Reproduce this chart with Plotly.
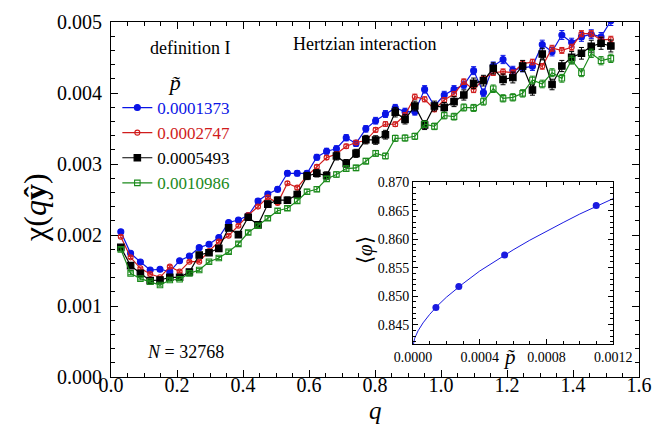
"""
chi(q y) for Hertzian packings, with <phi>(p) inset.
"""

import plotly.graph_objects as go

# wave numbers q = 2*pi*n/L, n = 1..51
q = [0.0297, 0.0594, 0.0891, 0.1188, 0.1485, 0.1782, 0.2079, 0.2376, 0.2673, 0.2970,
     0.3267, 0.3564, 0.3861, 0.4158, 0.4455, 0.4752, 0.5049, 0.5346, 0.5643, 0.5940,
     0.6237, 0.6534, 0.6831, 0.7128, 0.7425, 0.7722, 0.8019, 0.8316, 0.8613, 0.8910,
     0.9207, 0.9504, 0.9801, 1.0098, 1.0395, 1.0692, 1.0989, 1.1286, 1.1583, 1.1880,
     1.2177, 1.2474, 1.2771, 1.3068, 1.3365, 1.3662, 1.3959, 1.4256, 1.4553, 1.4850,
     1.5147]

chi_1373 = [0.002046, 0.001742, 0.001620, 0.001507, 0.001517, 0.001484, 0.001638, 0.001704, 0.001822, 0.001869,
            0.001965, 0.002176, 0.002211, 0.002275, 0.002479, 0.002577, 0.002643, 0.002869, 0.002869, 0.002869,
            0.003095, 0.003180, 0.003215, 0.003370, 0.003290, 0.003495, 0.003610, 0.003704, 0.003790, 0.003737,
            0.003737, 0.004051, 0.003817, 0.003972, 0.004051, 0.004113, 0.004315, 0.004005, 0.004380, 0.004472,
            0.004320, 0.004355, 0.004375, 0.004683, 0.004582, 0.004817, 0.004710, 0.004790, 0.004828, 0.004790,
            0.005016]
chi_2747 = [0.001976, 0.001685, 0.001531, 0.001451, 0.001404, 0.001554, 0.001484, 0.001624, 0.001624, 0.001775,
            0.001906, 0.001990, 0.002131, 0.002280, 0.002400, 0.002531, 0.002450, 0.002728, 0.002667, 0.002831,
            0.002960, 0.003090, 0.003140, 0.003250, 0.003303, 0.003330, 0.003480, 0.003563, 0.003560, 0.003690,
            0.003948, 0.003911, 0.003770, 0.003901, 0.003986, 0.004160, 0.004042, 0.004200, 0.004285, 0.004300,
            0.004286, 0.004413, 0.004436, 0.004375, 0.004630, 0.004600, 0.004645, 0.004835, 0.004835, 0.004747,
            0.004756]
chi_5493 = [0.001826, 0.001568, 0.001460, 0.001357, 0.001366, 0.001404, 0.001404, 0.001479, 0.001718, 0.001751,
            0.001812, 0.002100, 0.002005, 0.002249, 0.002143, 0.002435, 0.002490, 0.002490, 0.002570, 0.002831,
            0.002869, 0.002838, 0.003113, 0.003009, 0.003150, 0.003343, 0.003338, 0.003413, 0.003730, 0.003629,
            0.003817, 0.003549, 0.003817, 0.003798, 0.003878, 0.003972, 0.004136, 0.004174, 0.004347, 0.004192,
            0.004218, 0.004380, 0.004042, 0.004549, 0.004120, 0.004380, 0.004502, 0.004559, 0.004659, 0.004700,
            0.004662]
chi_10986 = [0.001798, 0.001460, 0.001385, 0.001343, 0.001296, 0.001366, 0.001376, 0.001460, 0.001507, 0.001624,
             0.001676, 0.001765, 0.001875, 0.002035, 0.002130, 0.002235, 0.002342, 0.002376, 0.002480, 0.002610,
             0.002645, 0.002790, 0.002852, 0.002935, 0.002945, 0.003040, 0.003150, 0.003113, 0.003362, 0.003366,
             0.003390, 0.003560, 0.003530, 0.003683, 0.003667, 0.003796, 0.003790, 0.003880, 0.004060, 0.003925,
             0.003939, 0.003995, 0.004183, 0.004127, 0.004286, 0.004207, 0.004465, 0.004286, 0.004559, 0.004455,
             0.004488]

# inset: packing fraction vs pressure
p_sim = [0.0001373, 0.0002747, 0.0005493, 0.0010986]
phi_sim = [0.8480, 0.8517, 0.8572, 0.8659]
p_fit = [0.0, 0.00001, 0.00003, 0.00006, 0.0001, 0.00015, 0.0002, 0.0003, 0.0004, 0.0005,
         0.0006, 0.0007, 0.0008, 0.0009, 0.0010, 0.0011, 0.0012]
phi_fit = [0.8412, 0.8426, 0.8439, 0.8453, 0.8468, 0.8484, 0.8498, 0.8522, 0.8544, 0.8563,
           0.8581, 0.8598, 0.8614, 0.8629, 0.8644, 0.8657, 0.8671]

FONT = "Liberation Serif"

series = [
    ("0.0001373", chi_1373, "#0a14e6", "circle", 6, 1.3),
    ("0.0002747", chi_2747, "#d01c1c", "circle-open", 5, 0.9),
    ("0.0005493", chi_5493, "#000000", "square", 6.5, 1.8),
    ("0.0010986", chi_10986, "#1b8a1b", "square-open", 5.5, 1.3),
]

fig = go.Figure()

for label, y, color, symbol, size, err in series:
    fig.add_trace(go.Scatter(
        x=q, y=y,
        mode="lines+markers",
        name=f"<span style='color:{color}'>{label}</span>",
        line=dict(color=color, width=1.2),
        marker=dict(color=color, symbol=symbol, size=size, line=dict(color=color, width=1.1)),
        error_y=dict(type="percent", value=err, color=color, thickness=1, width=2.5),
        xaxis="x", yaxis="y",
    ))

fig.add_trace(go.Scatter(
    x=p_fit, y=phi_fit, mode="lines",
    line=dict(color="#1a1ae0", width=1),
    showlegend=False, xaxis="x2", yaxis="y2",
))
fig.add_trace(go.Scatter(
    x=p_sim, y=phi_sim, mode="markers",
    marker=dict(color="#1a1ae0", size=7),
    showlegend=False, xaxis="x2", yaxis="y2",
))

axis_common = dict(
    showline=True, linecolor="black", linewidth=1, mirror="ticks",
    ticks="inside", tickcolor="black", showgrid=False, zeroline=False,
    automargin=False,
)

fig.update_layout(
    width=653, height=428,
    margin=dict(l=111, r=14, t=22, b=51),
    paper_bgcolor="white", plot_bgcolor="white",
    font=dict(family=FONT, size=18, color="black"),
    xaxis=dict(
        range=[0, 1.6], dtick=0.2, tick0=0, tickformat=".1f", ticklen=7,
        minor=dict(dtick=0.05, ticklen=4, ticks="inside", tickcolor="black"),
        tickfont=dict(family=FONT, size=20), ticklabelstandoff=-10, **axis_common,
    ),
    yaxis=dict(
        range=[0, 0.005], dtick=0.001, tick0=0, tickformat=".3f", ticklen=7,
        minor=dict(dtick=0.0002, ticklen=4, ticks="inside", tickcolor="black"),
        tickfont=dict(family=FONT, size=20), ticklabelstandoff=4, **axis_common,
    ),
    xaxis2=dict(
        domain=[0.572, 0.951], anchor="y2",
        range=[0, 0.0012], tickvals=[0, 0.0004, 0.0008, 0.0012], tickformat=".4f", ticklen=5,
        minor=dict(dtick=0.0001, ticklen=3, ticks="inside", tickcolor="black"),
        tickfont=dict(family=FONT, size=14), **axis_common,
    ),
    yaxis2=dict(
        domain=[0.093, 0.549], anchor="x2",
        range=[0.8416, 0.870], tickvals=[0.845, 0.850, 0.855, 0.860, 0.865, 0.870], tickformat=".3f",
        ticklen=5,
        minor=dict(dtick=0.001, ticklen=3, ticks="inside", tickcolor="black"),
        tickfont=dict(family=FONT, size=14), **axis_common,
    ),
    legend=dict(
        x=0.012, y=0.889, xanchor="left", yanchor="top",
        bgcolor="rgba(0,0,0,0)", font=dict(family=FONT, size=17), itemwidth=30,
        title=dict(text="<i>p̃</i>", side="top center", font=dict(family=FONT, size=22)),
        tracegroupgap=0,
    ),
    showlegend=True,
)

annotations = [
    dict(text="definition I", x=0.150, y=0.927),
    dict(text="Hertzian interaction", x=0.481, y=0.938),
    dict(text="<i>N</i> = 32768", x=0.142, y=0.070),
    dict(text="<i>q</i>", x=0.5, y=-0.138, yanchor="bottom", font=dict(family=FONT, size=25)),
    dict(text="χ(<i>q</i><b>ŷ</b>)", x=-0.144, y=0.479, textangle=-90, font=dict(family=FONT, size=32)),
    dict(text="<i>p̃</i>", x=0.755, y=0.055, font=dict(family=FONT, size=21)),
    dict(text="⟨<i>φ</i>⟩", x=0.481, y=0.358, textangle=-90, font=dict(family=FONT, size=21)),
]
for a in annotations:
    a.setdefault("font", dict(family=FONT, size=18))
    a.setdefault("yanchor", "middle")
    fig.add_annotation(xref="paper", yref="paper", showarrow=False,
                       xanchor="center", **a)

# the page's default body margin would shift the figure by 8 px
fig.write_html("out.html", config={"displayModeBar": False},
               post_script="document.body.style.margin='0';")
